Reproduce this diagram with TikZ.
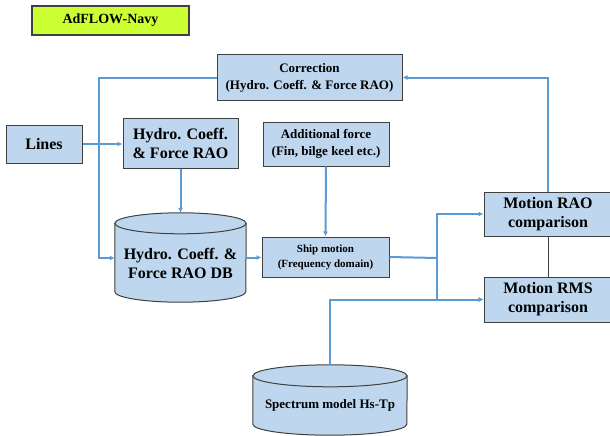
\documentclass[tikz,border=0pt]{standalone}
\usepackage{fontspec}
\setmainfont{Liberation Serif}
\usetikzlibrary{arrows.meta,shadows,backgrounds}
\definecolor{boxblue}{RGB}{190,215,238}
\definecolor{linkblue}{RGB}{91,155,213}
\definecolor{tagyellow}{RGB}{204,255,51}
\definecolor{edgegray}{RGB}{64,64,64}
\tikzset{
  bigtxt/.style={font=\fontsize{16}{19}\selectfont\bfseries},
  midtxt/.style={font=\fontsize{13}{17}\selectfont\bfseries},
  smalltxt/.style={font=\fontsize{11}{15}\selectfont\bfseries},
  block/.style={draw=edgegray,line width=1pt,fill=boxblue,align=center,inner sep=0pt,
    drop shadow={shadow xshift=1pt,shadow yshift=-1pt,opacity=.45}},
  drum/.style={inner sep=0pt},
  drumline/.style={draw=edgegray,line width=1pt,fill=boxblue},
  tag/.style={draw=edgegray,line width=1.5pt,fill=tagyellow,inner sep=0pt},
  link/.style={linkblue,line width=2pt,-{Latex[length=5pt,width=5pt]}},
  plain/.style={linkblue,line width=2pt}
}

\begin{document}
\begin{tikzpicture}[x=1pt,y=-1pt]
                \useasboundingbox (0,0) rectangle (610,436);
                \node[tag,midtxt,font=\fontsize{14}{17}\selectfont\bfseries,minimum width=157pt,minimum height=29pt] (navy) at (110.5,20.5) {AdFLOW-Navy};
                \node[block,midtxt,minimum width=185pt,minimum height=45pt] (correction) at (309.5,77.5) {Correction\\(Hydro. Coeff. \& Force RAO)};
                \node[block,bigtxt,minimum width=76pt,minimum height=38pt] (lines) at (44,144) {Lines};
                \node[block,bigtxt,minimum width=115pt,minimum height=50pt] (hydro) at (180.5,143) {Hydro. Coeff.\\\& Force RAO};
                \node[block,midtxt,minimum width=126pt,minimum height=44pt] (additional) at (326,144) {Additional force\\(Fin, bilge keel etc.)};
                \node[drum,minimum width=131pt,minimum height=89pt,
                      label={[bigtxt,align=center,yshift=-6pt]center:Hydro. Coeff. \&\\Force RAO DB}] (db) at (180.5,257.5) {};
                \node[block,smalltxt,minimum width=127pt,minimum height=40pt] (ship) at (325.5,257) {Ship motion\\(Frequency domain)};
                \node[block,bigtxt,minimum width=128pt,minimum height=44pt] (rao) at (548,214) {Motion RAO\\comparison};
                \node[block,bigtxt,minimum width=128pt,minimum height=45pt] (rms) at (548,299.5) {Motion RMS\\comparison};
                \node[drum,minimum width=154pt,minimum height=70pt,
                      label={[midtxt,yshift=-5.5pt]center:Spectrum model Hs-Tp}] (spectrum) at (330,400) {};
                \begin{pgfonlayer}{background}
                    \draw[drumline] ([yshift=-10.5pt]db.north west) -- ([yshift=10.5pt]db.south west)
                        arc[start angle=180,end angle=360,x radius=65.5pt,y radius=10.5pt]
                        -- ([yshift=-10.5pt]db.north east) -- cycle;
                    \draw[drumline] ([yshift=-10.5pt]db.north) ellipse[x radius=65.5pt,y radius=10.5pt];
                    \draw[drumline] ([yshift=-11pt]spectrum.north west) -- ([yshift=11pt]spectrum.south west)
                        arc[start angle=180,end angle=360,x radius=77pt,y radius=11pt]
                        -- ([yshift=-11pt]spectrum.north east) -- cycle;
                    \draw[drumline] ([yshift=-11pt]spectrum.north) ellipse[x radius=77pt,y radius=11pt];
                \end{pgfonlayer}
                \coordinate (feed) at (99,258);
                \coordinate (fork) at (437,258);
                \draw[link] (lines.east) -- (lines.east -| hydro.west);
                \draw[link] (correction.west) -| (feed) -- (feed -| db.west);
                \draw[link] (hydro.south) -- (db.north);
                \draw[link] (additional.south) -- (ship.north);
                \draw[link] (db.east) -- (db.east -| ship.west);
                \draw[plain] (ship.east) -- (fork);
                \draw[link] (fork) |- (rao.west);
                \draw[link] (fork) |- (rms.west);
                \draw[link] (spectrum.north) |- (rms.west);
                \draw[edgegray,line width=1pt] (rao.south) -- (rms.north);
                \draw[link] (rao.north) |- (correction.east);
            \end{tikzpicture}
\end{document}
